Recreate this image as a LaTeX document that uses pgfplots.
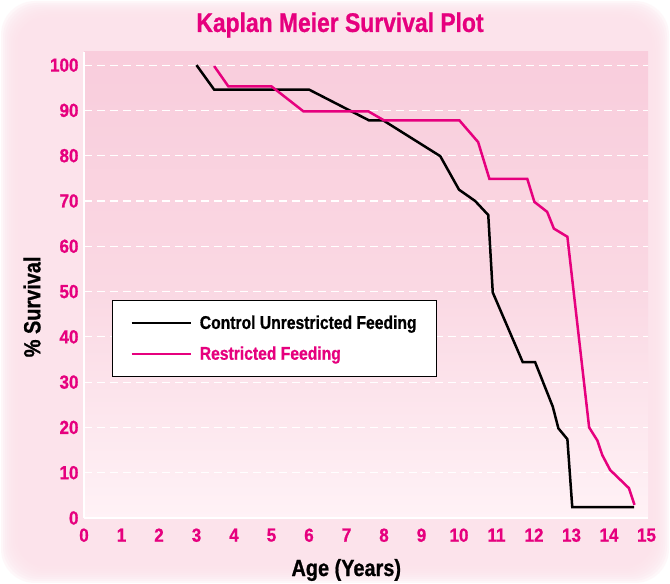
\documentclass[border=0pt]{standalone}
\usepackage{fontspec}
\newfontfamily\cond{Liberation Sans}[FakeStretch=0.85,BoldFeatures={FakeBold=0.8}]
\newfontfamily\tickf{Liberation Sans}[FakeStretch=0.9,BoldFeatures={FakeBold=0.8}]
\usepackage{pgfplots}
\pgfplotsset{compat=1.18}
\definecolor{kmpink}{HTML}{E6007E}
\definecolor{panel}{HTML}{FCE3EB}
\definecolor{plottop}{HTML}{F9CDDC}
\definecolor{plotmid}{HTML}{FAD8E3}
\definecolor{plotbot}{HTML}{FFF2F6}

\begin{document}
\begin{tikzpicture}[x=1bp,y=1bp]
% page and soft-edged panel
\fill[white] (0,0) rectangle (670,584);
\foreach \i in {0,...,7}
  \fill[panel,opacity=0.25,rounded corners=34bp] (1+2*\i,1+2*\i) rectangle (669-2*\i,583-2*\i);
\fill[panel,rounded corners=26bp] (18,18) rectangle (652,566);
% plot area background
\shade[top color=plottop,bottom color=plotbot,middle color=plotmid] (84,66) rectangle (648,532);

\begin{axis}[
  at={(84bp,66bp)},anchor=south west,
  scale only axis,width=564bp,height=466bp,
  xmin=0,xmax=15.04,ymin=0,ymax=102.9,
  xtick={0,1,...,15},ytick={0,10,...,100},
  axis lines*=left,
  axis line style={white,line width=2.6bp,-},
  major tick length=0pt,
  ymajorgrids,
  grid style={white,line width=1.1bp,dash pattern=on 8bp off 5bp},
  tick label style={font=\tickf\bfseries\fontsize{19}{19}\selectfont,text=kmpink},
  /pgf/number format/assume math mode=true,
  xticklabel style={yshift=-7bp},
  yticklabel style={xshift=-2bp},
  xlabel={Age (Years)},ylabel={\% Survival},
  label style={font=\cond\bfseries\fontsize{23.5}{23.5}\selectfont,text=black},
  xlabel style={at={(axis description cs:0.465,-0.1116)},anchor=center},
  ylabel style={at={(axis description cs:-0.0922,0.453)},anchor=center},
  legend style={at={(rel axis cs:0.0496,0.468)},anchor=north west,
    fill=white,draw=black,line width=1.3bp,
    font=\cond\bfseries\fontsize{18.5}{18.5}\selectfont,
    inner xsep=18bp,inner ysep=13bp,row sep=12bp,column sep=6bp},
  legend cell align=left,
  legend image code/.code={\draw[#1,line width=2.2bp] (0bp,0bp) -- (59bp,0bp);},
]
\addplot[black,line width=2.5bp] coordinates {
  (3.0,100) (3.47,94.6) (6.0,94.6) (7.6,87.8) (7.98,87.8) (9.5,79.9)
  (10.0,72.5) (10.43,70.0) (10.78,66.9) (10.9,49.8) (11.7,34.4) (12.03,34.4)
  (12.5,24.6) (12.65,19.8) (12.89,17.4) (13.02,2.4) (14.67,2.4)};
\addlegendentry{Control Unrestricted Feeding}
\addplot[kmpink,line width=2.5bp] coordinates {
  (3.47,99.8) (3.85,95.3) (5.0,95.3) (5.85,89.8) (7.58,89.8) (8.0,87.8)
  (10.01,87.8) (10.51,83.0) (10.81,74.9) (11.82,74.9) (12.01,69.8) (12.35,67.6)
  (12.53,63.9) (12.89,62.1) (13.47,20.0) (13.69,17.1) (13.82,13.9) (14.03,10.6)
  (14.53,6.6) (14.68,2.9)};
\addlegendentry{\textcolor{kmpink}{Restricted Feeding}}
\end{axis}

\node[font=\cond\bfseries\fontsize{27}{27}\selectfont,text=kmpink] at (340,559) {Kaplan Meier Survival Plot};
\pgfresetboundingbox
\useasboundingbox (0,0) rectangle (670,584);
\end{tikzpicture}
\end{document}
